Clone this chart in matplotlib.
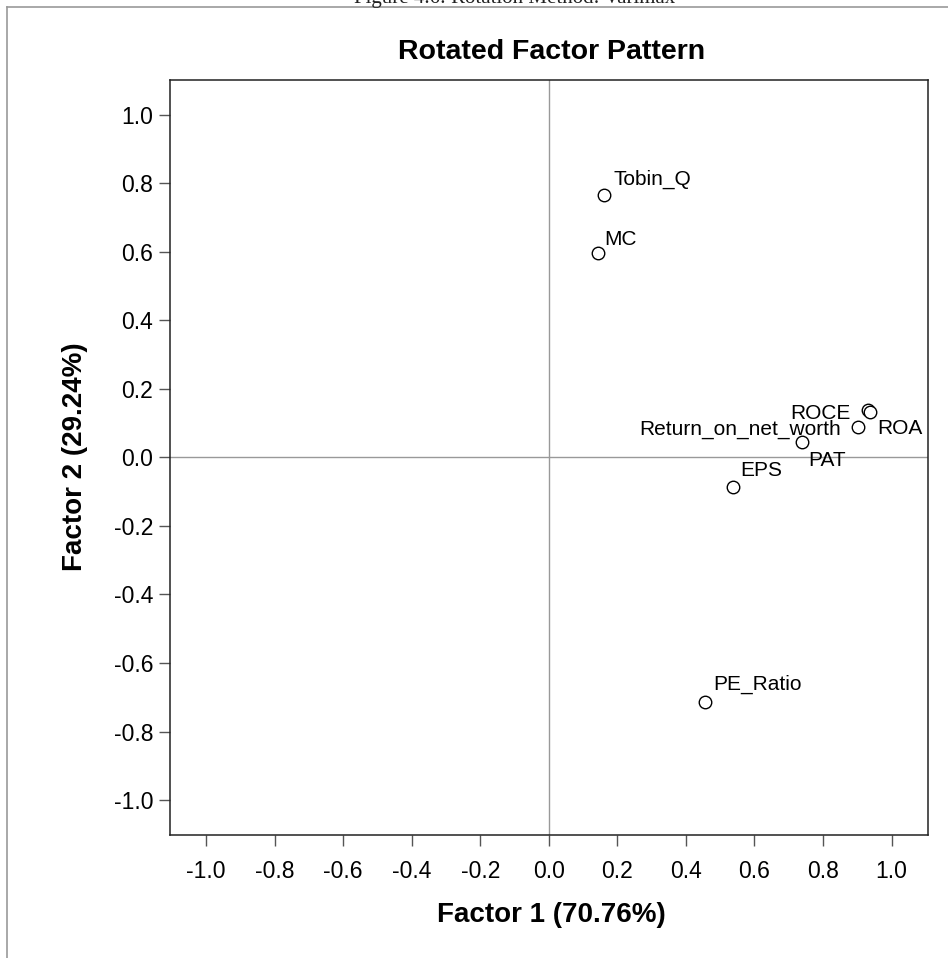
import matplotlib
matplotlib.use("Agg")
import matplotlib.pyplot as plt
from matplotlib.lines import Line2D

# ---- data ----
variables = ["Tobin_Q", "MC", "ROCE", "ROA", "Return_on_net_worth", "PAT", "EPS", "PE_Ratio"]
factor1 = [0.160, 0.145, 0.931, 0.936, 0.901, 0.738, 0.539, 0.456]
factor2 = [0.765, 0.597, 0.138, 0.133, 0.089, 0.046, -0.088, -0.713]
tick_values = [-1.0, -0.8, -0.6, -0.4, -0.2, 0.0, 0.2, 0.4, 0.6, 0.8, 1.0]
tick_labels = [f"{v:.1f}" for v in tick_values]
title = "Rotated Factor Pattern"
xlabel = "Factor 1 (70.76%)"
ylabel = "Factor 2 (29.24%)"
caption = "Figure 4.6: Rotation Method: Varimax"

# label placement (pixel offsets from point, horizontal alignment)
label_offsets = {
    "Tobin_Q": (10, 10, "left"),
    "MC": (6, 8, "left"),
    "ROCE": (-17, -9, "right"),
    "ROA": (8, -22, "left"),
    "Return_on_net_worth": (-17, -8, "right"),
    "PAT": (7, -24, "left"),
    "EPS": (7, 11, "left"),
    "PE_Ratio": (8, 12, "left"),
}

plt.rcParams['font.family'] = ['Liberation Sans', 'DejaVu Sans']

W, H = 948, 958
fig = plt.figure(figsize=(W / 100, H / 100), dpi=100)
fig.patch.set_facecolor("white")

# outer frame lines (gray)
fig.add_artist(Line2D([7 / W, 1.0], [1 - 7 / H, 1 - 7 / H], transform=fig.transFigure,
                      color="#9a9a9a", lw=1.2))
fig.add_artist(Line2D([7 / W, 7 / W], [0, 1 - 7 / H], transform=fig.transFigure,
                      color="#9a9a9a", lw=1.2))

# clipped caption at top
fig.text(515 / W, 1 - 3 / H, caption, family=['Liberation Serif', 'DejaVu Serif'],
         fontsize=15, ha="center", va="baseline", color="#222222")

ax_left, ax_right, ax_top, ax_bottom = 170, 927.5, 80, 835
ax = fig.add_axes([ax_left / W, 1 - ax_bottom / H, (ax_right - ax_left) / W, (ax_bottom - ax_top) / H])
ax.set_xlim(-1.105, 1.105)
ax.set_ylim(-1.102, 1.101)

ax.axhline(0, color="#999999", lw=1.0, zorder=1)
ax.axvline(0, color="#999999", lw=1.0, zorder=1)

ax.plot(factor1, factor2, linestyle="none", marker="o", markersize=9,
        markerfacecolor="white", markeredgecolor="black", markeredgewidth=1.0, zorder=3)

for name, x, y in zip(variables, factor1, factor2):
    dx, dy, ha = label_offsets[name]
    ax.annotate(name, (x, y), xytext=(dx, dy), textcoords="offset pixels",
                ha=ha, va="baseline", fontsize=15, color="black", zorder=4)

ax.set_xticks(tick_values)
ax.set_xticklabels(tick_labels)
ax.set_yticks(tick_values)
ax.set_yticklabels(tick_labels)
ax.tick_params(axis="both", direction="out", length=8, width=1.0, color="#555555",
               labelsize=16.5, labelcolor="black")
ax.tick_params(axis="x", pad=10)
ax.tick_params(axis="y", pad=4)

for side in ["left", "bottom", "right", "top"]:
    ax.spines[side].set_color("#222222")
    ax.spines[side].set_linewidth(1.1)

fig.text(552 / W, 1 - 52 / H, title, fontsize=20.5, fontweight="bold", ha="center", va="center")
fig.text(551 / W, 1 - 915 / H, xlabel, fontsize=20, fontweight="bold", ha="center", va="center")
fig.text(75 / W, 1 - 457 / H, ylabel, fontsize=20, fontweight="bold", ha="center", va="center",
         rotation=90)

fig.savefig("out.png", dpi=100, facecolor="white")
